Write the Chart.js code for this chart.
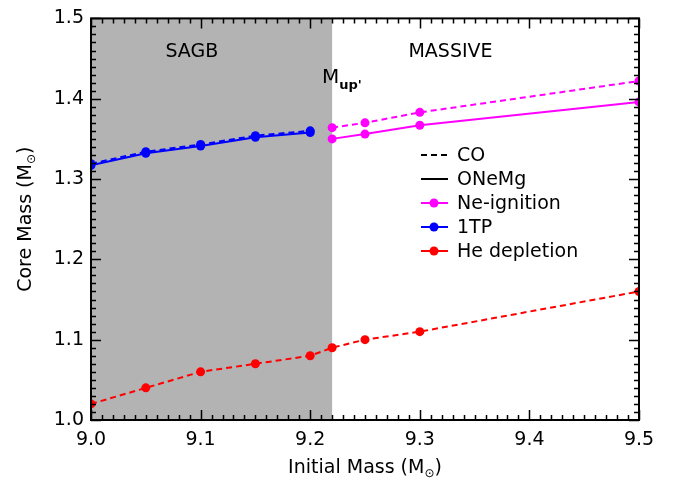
<!DOCTYPE html>
<html>
<head>
<meta charset="utf-8">
<script src="https://cdn.jsdelivr.net/npm/chart.js@4"></script>
<style>
html, body { margin: 0; padding: 0; background: #fff; }
</style>
</head>
<body>
<canvas id="coreChart" width="673" height="487"></canvas>
<script>
// data
var heMass = [9.0, 9.05, 9.1, 9.15, 9.2, 9.22, 9.25, 9.3, 9.5];
var heCore = [1.020, 1.040, 1.060, 1.070, 1.080, 1.090, 1.100, 1.110, 1.160];
var tpMass = [9.0, 9.05, 9.1, 9.15, 9.2];
var tpCoreCO = [1.319, 1.334, 1.343, 1.354, 1.360];
var tpCoreONe = [1.317, 1.332, 1.341, 1.352, 1.358];
var neMass = [9.22, 9.25, 9.3, 9.5];
var neCoreCO = [1.364, 1.370, 1.383, 1.422];
var neCoreONe = [1.350, 1.356, 1.367, 1.396];
var xTicks = [9.0, 9.1, 9.2, 9.3, 9.4, 9.5];
var yTicks = [1.0, 1.1, 1.2, 1.3, 1.4, 1.5];
var mupMass = 9.22;

var FONT = '"DejaVu Sans", sans-serif';

function zip(xs, ys) {
    return xs.map(function(x, i) { return { x: x, y: ys[i] }; });
}

function lineSet(label, xs, ys, color, dashed) {
    return {
        label: label,
        data: zip(xs, ys),
        showLine: true,
        borderColor: color,
        backgroundColor: color,
        borderWidth: 2,
        borderDash: dashed ? [6, 4] : [],
        pointRadius: 4.5,
        pointHoverRadius: 4.5,
        pointBorderWidth: 0,
        tension: 0
    };
}

// text with a lowered small symbol in the middle (M_sun)
function partsWidth(ctx, parts) {
    var w = 0;
    parts.forEach(function(p) {
        ctx.font = p.size + 'px ' + FONT;
        w += ctx.measureText(p.t).width;
    });
    return w;
}
function drawParts(ctx, parts, x, y) {
    var cx = x - partsWidth(ctx, parts) / 2;
    parts.forEach(function(p) {
        ctx.font = p.size + 'px ' + FONT;
        ctx.textAlign = 'left';
        ctx.textBaseline = 'alphabetic';
        ctx.fillText(p.t, cx, y + (p.dy || 0));
        cx += ctx.measureText(p.t).width;
    });
}

var decorPlugin = {
    id: 'decor',
    beforeDatasetsDraw: function(chart) {
        var ctx = chart.ctx, a = chart.chartArea, xs = chart.scales.x;
        var xr = xs.getPixelForValue(mupMass);
        ctx.save();
        ctx.fillStyle = '#b3b3b3';
        ctx.fillRect(a.left, a.top, xr - a.left, a.bottom - a.top);
        ctx.restore();
    },
    afterDatasetsDraw: function(chart) {
        var ctx = chart.ctx, a = chart.chartArea;
        var xs = chart.scales.x, ys = chart.scales.y;
        ctx.save();
        ctx.strokeStyle = '#000';
        ctx.lineWidth = 1.5;
        ctx.beginPath();
        var i, v, p, len;
        for (i = 0; i <= 50; i++) {
            v = 9 + i / 100;
            p = Math.round(xs.getPixelForValue(v)) + 0.5;
            len = (i % 10 === 0) ? 10 : 5;
            ctx.moveTo(p, a.bottom); ctx.lineTo(p, a.bottom - len);
            ctx.moveTo(p, a.top); ctx.lineTo(p, a.top + len);
        }
        for (i = 0; i <= 50; i++) {
            v = 1 + i / 100;
            p = Math.round(ys.getPixelForValue(v)) + 0.5;
            len = (i % 10 === 0) ? 10 : 5;
            ctx.moveTo(a.left, p); ctx.lineTo(a.left + len, p);
            ctx.moveTo(a.right, p); ctx.lineTo(a.right - len, p);
        }
        ctx.stroke();
        ctx.lineWidth = 2;
        ctx.strokeRect(a.left, a.top, a.right - a.left, a.bottom - a.top);
        ctx.restore();
    },
    afterDraw: function(chart) {
        var ctx = chart.ctx, a = chart.chartArea;
        var xs = chart.scales.x, ys = chart.scales.y;
        ctx.save();
        ctx.fillStyle = '#000';

        // region labels
        ctx.font = '19px ' + FONT;
        ctx.textAlign = 'center';
        ctx.textBaseline = 'middle';
        ctx.fillText('SAGB', xs.getPixelForValue(9.092), ys.getPixelForValue(1.4586));
        ctx.fillText('MASSIVE', xs.getPixelForValue(9.328), ys.getPixelForValue(1.4586));

        // M_up'
        var mx = xs.getPixelForValue(9.2108), my = ys.getPixelForValue(1.4197);
        ctx.textAlign = 'left';
        ctx.textBaseline = 'alphabetic';
        ctx.font = '20px ' + FONT;
        ctx.fillText('M', mx, my);
        var mw = ctx.measureText('M').width;
        ctx.font = 'bold 13px ' + FONT;
        ctx.fillText("up'", mx + mw, my + 6);

        // axis titles
        drawParts(ctx, [
            { t: 'Initial Mass (M', size: 19 },
            { t: '\u2299', size: 12, dy: 4 },
            { t: ')', size: 19 }
        ], (a.left + a.right) / 2, 473);
        ctx.save();
        ctx.translate(31, (a.top + a.bottom) / 2);
        ctx.rotate(-Math.PI / 2);
        drawParts(ctx, [
            { t: 'Core Mass (M', size: 19 },
            { t: '\u2299', size: 12, dy: 4 },
            { t: ')', size: 19 }
        ], 0, 0);
        ctx.restore();

        // legend
        var entries = [
            { label: 'CO', color: '#000', dash: [6, 4], dot: false },
            { label: 'ONeMg', color: '#000', dash: [], dot: false },
            { label: 'Ne-ignition', color: '#ff00ff', dash: [], dot: true },
            { label: '1TP', color: '#0000ff', dash: [], dot: true },
            { label: 'He depletion', color: '#ff0000', dash: [], dot: true }
        ];
        var lx = 421, ly = 155, step = 24;
        entries.forEach(function(e, k) {
            var y = ly + k * step;
            ctx.strokeStyle = e.color;
            ctx.lineWidth = 2;
            ctx.setLineDash(e.dash);
            ctx.beginPath();
            ctx.moveTo(lx, y); ctx.lineTo(lx + 27, y);
            ctx.stroke();
            ctx.setLineDash([]);
            if (e.dot) {
                ctx.fillStyle = e.color;
                ctx.beginPath();
                ctx.arc(lx + 13, y, 4.5, 0, Math.PI * 2);
                ctx.fill();
            }
            ctx.fillStyle = '#000';
            ctx.font = '19px ' + FONT;
            ctx.textAlign = 'left';
            ctx.textBaseline = 'middle';
            ctx.fillText(e.label, lx + 36, y + 1);
        });
        ctx.restore();
    }
};

var ctx = document.getElementById('coreChart').getContext('2d');
var coreChart = new Chart(ctx, {
    type: 'scatter',
    data: {
        datasets: [
            lineSet('He depletion', heMass, heCore, '#ff0000', true),
            lineSet('1TP CO', tpMass, tpCoreCO, '#0000ff', true),
            lineSet('1TP ONeMg', tpMass, tpCoreONe, '#0000ff', false),
            lineSet('Ne-ignition CO', neMass, neCoreCO, '#ff00ff', true),
            lineSet('Ne-ignition ONeMg', neMass, neCoreONe, '#ff00ff', false)
        ]
    },
    options: {
        responsive: false,
        animation: false,
        layout: { padding: { top: 9, right: 34, left: 0, bottom: 0 } },
        scales: {
            x: {
                type: 'linear',
                min: 9.0,
                max: 9.5,
                afterBuildTicks: function(s) { s.ticks = xTicks.map(function(v) { return { value: v }; }); },
                afterFit: function(s) { s.height = 67; },
                grid: { display: false, drawTicks: false },
                border: { display: false },
                ticks: {
                    color: '#000',
                    padding: 9,
                    maxRotation: 0,
                    font: { family: FONT, size: 19 },
                    callback: function(v) { return v.toFixed(1); }
                }
            },
            y: {
                type: 'linear',
                min: 1.0,
                max: 1.5,
                afterBuildTicks: function(s) { s.ticks = yTicks.map(function(v) { return { value: v }; }); },
                afterFit: function(s) { s.width = 91; },
                grid: { display: false, drawTicks: false },
                border: { display: false },
                ticks: {
                    color: '#000',
                    padding: 7,
                    font: { family: FONT, size: 19 },
                    callback: function(v) { return v.toFixed(1); }
                }
            }
        },
        plugins: {
            legend: { display: false },
            tooltip: { enabled: false }
        }
    },
    plugins: [decorPlugin]
});
</script>
</body>
</html>
